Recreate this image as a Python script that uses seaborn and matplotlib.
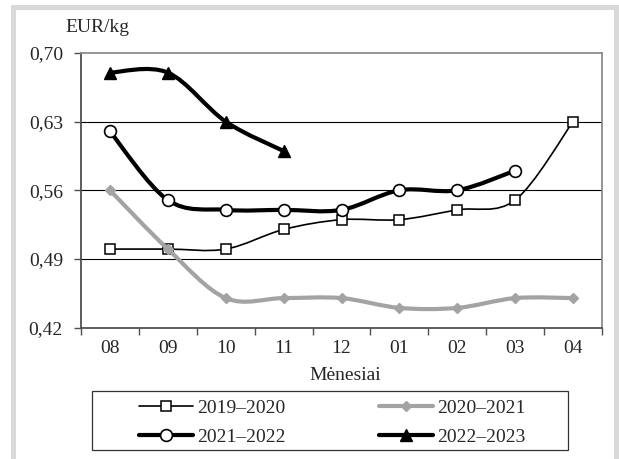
import numpy as np
import pandas as pd
import matplotlib
matplotlib.use("Agg")
import matplotlib.pyplot as plt
from matplotlib.path import Path
from matplotlib.patches import PathPatch, Rectangle
from matplotlib.lines import Line2D
import seaborn as sns

# ---- data ----
months = ["08", "09", "10", "11", "12", "01", "02", "03", "04"]
s2019_2020 = [0.50, 0.50, 0.50, 0.52, 0.53, 0.53, 0.54, 0.55, 0.63]
s2020_2021 = [0.56, 0.50, 0.45, 0.45, 0.45, 0.44, 0.44, 0.45, 0.45]
s2021_2022 = [0.62, 0.55, 0.54, 0.54, 0.54, 0.56, 0.56, 0.58]
s2022_2023 = [0.68, 0.68, 0.63, 0.60]
series_names = ["2019–2020", "2020–2021", "2021–2022", "2022–2023"]
y_ticks = [0.42, 0.49, 0.56, 0.63, 0.70]
y_ticklabels = ["0,42", "0,49", "0,56", "0,63", "0,70"]
y_unit = "EUR/kg"
x_title = "Mėnesiai"

series_values = [s2019_2020, s2020_2021, s2021_2022, s2022_2023]
rows = []
for name, vals in zip(series_names, series_values):
    for i, v in enumerate(vals):
        rows.append({"season": name, "month": months[i], "pos": i, "price": v})
df = pd.DataFrame(rows)

# ---- styles ----
styles = {
    "2019–2020": dict(color="black", lw=1.2, marker="s", ms=7.5, mfc="white", mec="black", mew=1.1),
    "2020–2021": dict(color="#a3a3a3", lw=3.0, marker="D", ms=5.5, mfc="#a3a3a3", mec="#a3a3a3", mew=1.0),
    "2021–2022": dict(color="black", lw=3.0, marker="o", ms=8.5, mfc="white", mec="black", mew=1.2),
    "2022–2023": dict(color="black", lw=3.0, marker="^", ms=8.5, mfc="black", mec="black", mew=1.0),
}

sns.set_style("white")
plt.rcParams["font.family"] = ["Liberation Serif", "DejaVu Serif"]
plt.rcParams["font.size"] = 14

W, H = 619, 459
fig = plt.figure(figsize=(W / 100, H / 100), dpi=100)
fig.patch.set_facecolor("white")

# outer gray frame
fig.patches.append(Rectangle((11 / W, -0.1), 1.0, (H - 5) / H + 0.1, transform=fig.transFigure,
                             facecolor="#d9d9d9", edgecolor="none", zorder=-10))
fig.patches.append(Rectangle((16 / W, -0.1), (614 - 16) / W, (H - 10) / H + 0.1, transform=fig.transFigure,
                             facecolor="white", edgecolor="none", zorder=-9))

ax_l, ax_r, ax_t, ax_b = 81, 602, 53, 327.5
ax = fig.add_axes([ax_l / W, (H - ax_b) / H, (ax_r - ax_l) / W, (ax_b - ax_t) / H])
ax.set_facecolor("white")


def smooth_path(xs, ys, t=1.0 / 6.0):
    pts = np.column_stack([xs, ys]).astype(float)
    n = len(pts)
    verts = [pts[0]]
    codes = [Path.MOVETO]
    for i in range(n - 1):
        p0 = pts[i - 1] if i > 0 else pts[i]
        p1 = pts[i]
        p2 = pts[i + 1]
        p3 = pts[i + 2] if i + 2 < n else pts[i + 1]
        c1 = p1 + (p2 - p0) * t
        c2 = p2 - (p3 - p1) * t
        verts += [c1, c2, p2]
        codes += [Path.CURVE4] * 3
    return Path(verts, codes)


z = 3
for name in series_names:
    sub = df[df["season"] == name]
    st = styles[name]
    patch = PathPatch(smooth_path(sub["pos"].values, sub["price"].values), facecolor="none",
                      edgecolor=st["color"], lw=st["lw"], zorder=z, capstyle="round", joinstyle="round")
    ax.add_patch(patch)
    sns.lineplot(data=sub, x="pos", y="price", ax=ax, linewidth=0, marker=st["marker"],
                 markersize=st["ms"], markerfacecolor=st["mfc"], markeredgecolor=st["mec"],
                 markeredgewidth=st["mew"], color=st["color"], zorder=z + 0.5, legend=False)
    z += 1

ax.set_xlim(-0.5, len(months) - 0.5)
ax.set_ylim(y_ticks[0], y_ticks[-1])
ax.set_xlabel("")
ax.set_ylabel("")

ax.set_yticks(y_ticks)
ax.set_yticklabels(y_ticklabels)
ax.set_xticks(range(len(months)))
ax.set_xticklabels(months)
ax.set_xticks(np.arange(-0.5, len(months)), minor=True)
ax.tick_params(axis="x", which="major", length=0, pad=9, labelsize=14)
ax.tick_params(axis="x", which="minor", length=5, width=1.0, color="#505050", direction="out", bottom=True)
ax.tick_params(axis="y", which="major", length=5, width=1.0, color="#505050", direction="out", pad=8, labelsize=14, left=True)

for yv in y_ticks[1:-1]:
    ax.axhline(yv, color="black", lw=0.8, zorder=1)

for side in ["top", "right"]:
    ax.spines[side].set_color("#8c8c8c")
    ax.spines[side].set_linewidth(1.3)
for side in ["left", "bottom"]:
    ax.spines[side].set_color("#505050")
    ax.spines[side].set_linewidth(1.3)

fig.text(65 / W, (H - 28) / H, y_unit, ha="left", va="center", fontsize=14)
fig.text(345 / W, (H - 376) / H, x_title, ha="center", va="center", fontsize=14)

handles = []
for name in series_names:
    st = styles[name]
    handles.append(Line2D([], [], color=st["color"], lw=st["lw"], marker=st["marker"], markersize=st["ms"],
                          markerfacecolor=st["mfc"], markeredgecolor=st["mec"], markeredgewidth=st["mew"]))
order = [0, 2, 1, 3]
fig.legend([handles[i] for i in order], [series_names[i] for i in order], ncol=2, loc="center",
           bbox_to_anchor=(332 / W, (H - 422.5) / H), frameon=False, handlelength=2.8,
           handletextpad=0.2, columnspacing=4.8, labelspacing=0.6, fontsize=14, borderpad=0)
fig.patches.append(Rectangle((92 / W, (H - 450) / H), (568 - 92) / W, (450 - 391) / H, transform=fig.transFigure,
                             facecolor="none", edgecolor="#333333", lw=0.9, zorder=5))

fig.savefig("out.png", dpi=100, facecolor="white")
